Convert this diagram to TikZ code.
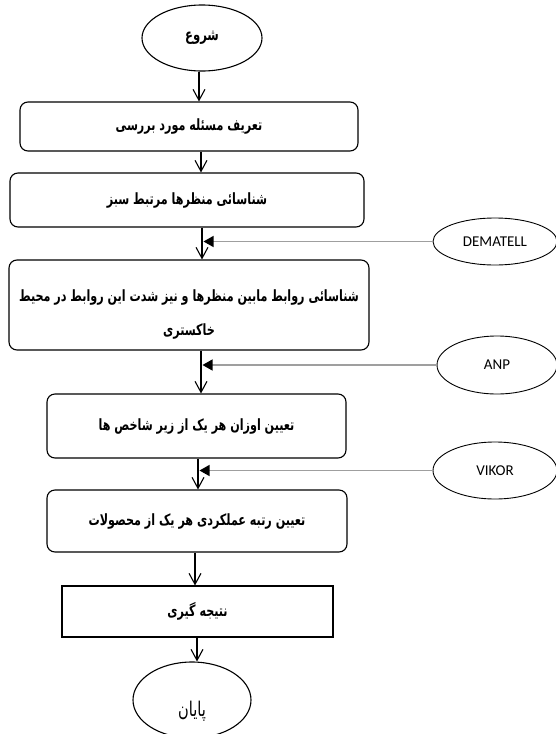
\documentclass[tikz,border=0pt]{standalone}
\usepackage{fontspec}
\usepackage{graphicx}
\usetikzlibrary{shapes.geometric,arrows.meta}
\TeXXeTstate=1
\newfontfamily\arabicfont[Script=Arabic]{DejaVu Sans}
\newfontfamily\latinsans{Carlito}
\newcommand{\artxt}[1]{\scalebox{0.97}[1.35]{\beginR #1\endR}}
\tikzset{
  stepbox/.style={draw, line width=1.1pt, rounded corners=8pt, inner sep=0pt, font=\arabicfont\bfseries\fontsize{11.5}{13}\selectfont, align=center},
  plainbox/.style={draw, line width=1.1pt, inner sep=0pt, font=\arabicfont\bfseries\fontsize{11.5}{13}\selectfont},
  termnode/.style={draw, ellipse, line width=1.1pt, inner sep=0pt},
  methnode/.style={draw, ellipse, line width=0.9pt, inner sep=0pt, font=\latinsans\fontsize{15}{17}\selectfont},
  varrow/.style={line width=1.2pt, -{Straight Barb[length=11pt,width=12pt,line width=1.1pt]}},
  harrow/.style={draw=gray!75, line width=1.2pt, -{Triangle[length=10pt,width=11pt,color=black,fill=black]}}
}
\begin{document}
\begin{tikzpicture}[x=1pt,y=-1pt]
\useasboundingbox (0,0) rectangle (555,734);
% terminals
\node[termnode, minimum width=120pt, minimum height=66pt, font=\arabicfont\bfseries\fontsize{12}{14}\selectfont] (start) at (202,38) {\artxt{شروع}};
\node[termnode, minimum width=118pt, minimum height=76pt, font=\arabicfont\fontsize{15}{17}\selectfont, text height=32pt, text depth=0pt] (finish) at (192,700) {\artxt{پایان}};
% steps
\node[stepbox, minimum width=338pt, minimum height=49pt] (b1) at (189,126.5) {\artxt{تعریف مسئله مورد بررسی}};
\node[stepbox, minimum width=354pt, minimum height=54pt] (b2) at (187,200) {\artxt{شناسائی منظرها مرتبط سبز}};
\node[stepbox, minimum width=360pt, minimum height=90pt, text height=59pt, text depth=7pt] (b3) at (189,305) {\raisebox{-4pt}{\artxt{شناسائی روابط مابین منظرها و نیز شدت این روابط در محیط}}\\[17pt]\raisebox{-4pt}{\artxt{خاکستری}}};
\node[stepbox, minimum width=299pt, minimum height=64pt] (b4) at (196.5,426) {\artxt{تعیین اوزان هر یک از زیر شاخص ها}};
\node[stepbox, minimum width=300pt, minimum height=62pt] (b5) at (197,521) {\artxt{تعیین رتبه عملکردی هر یک از محصولات}};
\node[plainbox, minimum width=271pt, minimum height=51pt] (b6) at (197.5,611.5) {\artxt{نتیجه گیری}};
% methods
\node[methnode, minimum width=124pt, minimum height=47pt] (dem) at (495,241.5) {DEMATELL};
\node[methnode, minimum width=120pt, minimum height=58pt] (anp) at (497,365) {ANP};
\node[methnode, minimum width=124pt, minimum height=57pt] (vik) at (495,470.5) {VIKOR};
% spine x positions
\coordinate (k1) at (199,0);
\coordinate (k2) at (201,0);
\coordinate (k3) at (202,0);
\coordinate (k4) at (201,0);
\coordinate (k5) at (198,0);
\coordinate (k6) at (195,0);
\coordinate (k7) at (197,0);
% vertical connectors
\draw[varrow] (start.south -| k1) -- (b1.north -| k1);
\draw[varrow] (b1.south -| k2) -- (b2.north -| k2);
\draw[varrow] (b2.south -| k3) -- (b3.north -| k3);
\draw[varrow] (b3.south -| k4) -- (b4.north -| k4);
\draw[varrow] (b4.south -| k5) -- (b5.north -| k5);
\draw[varrow] (b5.south -| k6) -- (b6.north -| k6);
\draw[varrow] (b6.south -| k7) -- (finish.north -| k7);
% method connectors
\draw[harrow] (dem.west) -- ([xshift=1.5pt]dem.west -| k3);
\draw[harrow] (anp.west) -- ([xshift=1.5pt]anp.west -| k4);
\draw[harrow] (vik.west) -- ([xshift=1.5pt]vik.west -| k5);
\end{tikzpicture}
\end{document}
